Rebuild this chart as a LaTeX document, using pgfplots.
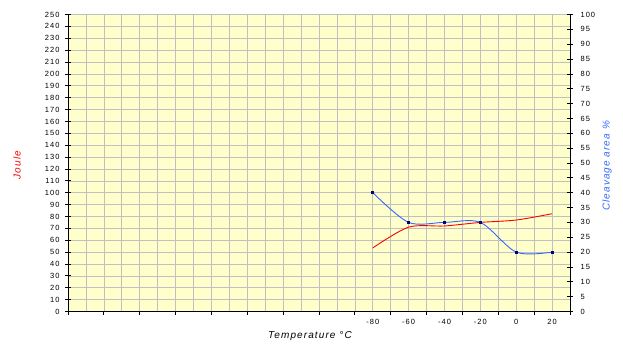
\documentclass[border=0pt]{standalone}
\usepackage{fontspec}
\setmainfont{Liberation Sans}
\newfontfamily\tickfont[LetterSpace=14]{Liberation Sans}
\newfontfamily\labfont[LetterSpace=11]{Liberation Sans}
\usepackage{pgfplots}
\pgfplotsset{compat=1.18}
\definecolor{plotbg}{RGB}{255,255,204}
\definecolor{gridc}{RGB}{192,192,192}
\definecolor{blueline}{RGB}{51,102,255}
\definecolor{navyc}{RGB}{0,0,128}
\pgfplotsset{
  base/.style={
    at={(0,0)}, anchor=south west,
    scale only axis, width=502pt, height=297pt,
    xmin=-0.5, xmax=13.5,
    axis line style={black, line width=0.9pt, -},
    /pgf/number format/assume math mode=true,
    tick label style={font=\tickfont\fontsize{7.5}{8}\selectfont},
  }
}
\begin{document}
\begin{tikzpicture}
\begin{axis}[
  base, ymin=0, ymax=250,
  axis background/.style={fill=plotbg},
  axis x line*=bottom, axis y line*=left,
  xtick={-0.5,0.5,...,13.5}, xticklabels={},
  minor x tick num=1,
  ytick={0,10,...,250}, yticklabels={},
  xmajorgrids, xminorgrids, ymajorgrids,
  grid style={gridc, line width=0.6pt},
  minor grid style={gridc, line width=0.6pt},
  minor tick length=0pt,
  tick align=outside,
  major tick length=3pt,
  x tick style={black, line width=0.8pt},
  y tick style={draw=none},
  extra x ticks={8,9,10,11,12,13},
  extra x tick labels={-80,-60,-40,-20,0,20},
  extra x tick style={grid=none, major tick length=0pt},
  xticklabel style={yshift=-4pt},
  xlabel={Temperature °C},
  ylabel={Joule},
  every axis x label/.style={at={(axis description cs:0.482,-0.0825)}, anchor=center, font=\labfont\itshape\fontsize{10}{12}\selectfont},
  every axis y label/.style={at={(axis description cs:-0.1016,0.493)}, anchor=center, rotate=90, red, font=\labfont\itshape\fontsize{10}{12}\selectfont},
]
\addplot[red, line width=0.9pt, smooth] coordinates {
  (8,53.5) (9,71) (10,72) (11,75) (12,77) (13,82.3)
};
\end{axis}
\begin{axis}[
  base, ymin=0, ymax=250,
  axis x line=none, axis y line*=left,
  ytick={0,10,...,250},
  tick align=center, major tick length=6pt,
  y tick style={black, line width=0.8pt},
  yticklabel style={xshift=-2pt},
]
\end{axis}
\begin{axis}[
  base, ymin=0, ymax=100,
  axis x line=none, axis y line*=right,
  ytick={0,5,...,100},
  tick align=center, major tick length=6pt,
  y tick style={black, line width=0.8pt},
  yticklabel style={xshift=4pt},
  ylabel={Cleavage area \%},
  every axis y label/.style={at={(axis description cs:1.0737,0.49)}, anchor=center, rotate=90, blueline, font=\labfont\itshape\fontsize{10}{12}\selectfont},
]
\addplot[blueline, line width=0.9pt, smooth, mark=square*, mark size=1pt, mark options={navyc, solid}] coordinates {
  (8,40) (9,30) (10,30) (11,30) (12,20) (13,20)
};
\end{axis}
\pgfresetboundingbox
\path (-68pt,-31.5pt) rectangle (555pt,311.5pt);
\end{tikzpicture}
\end{document}
